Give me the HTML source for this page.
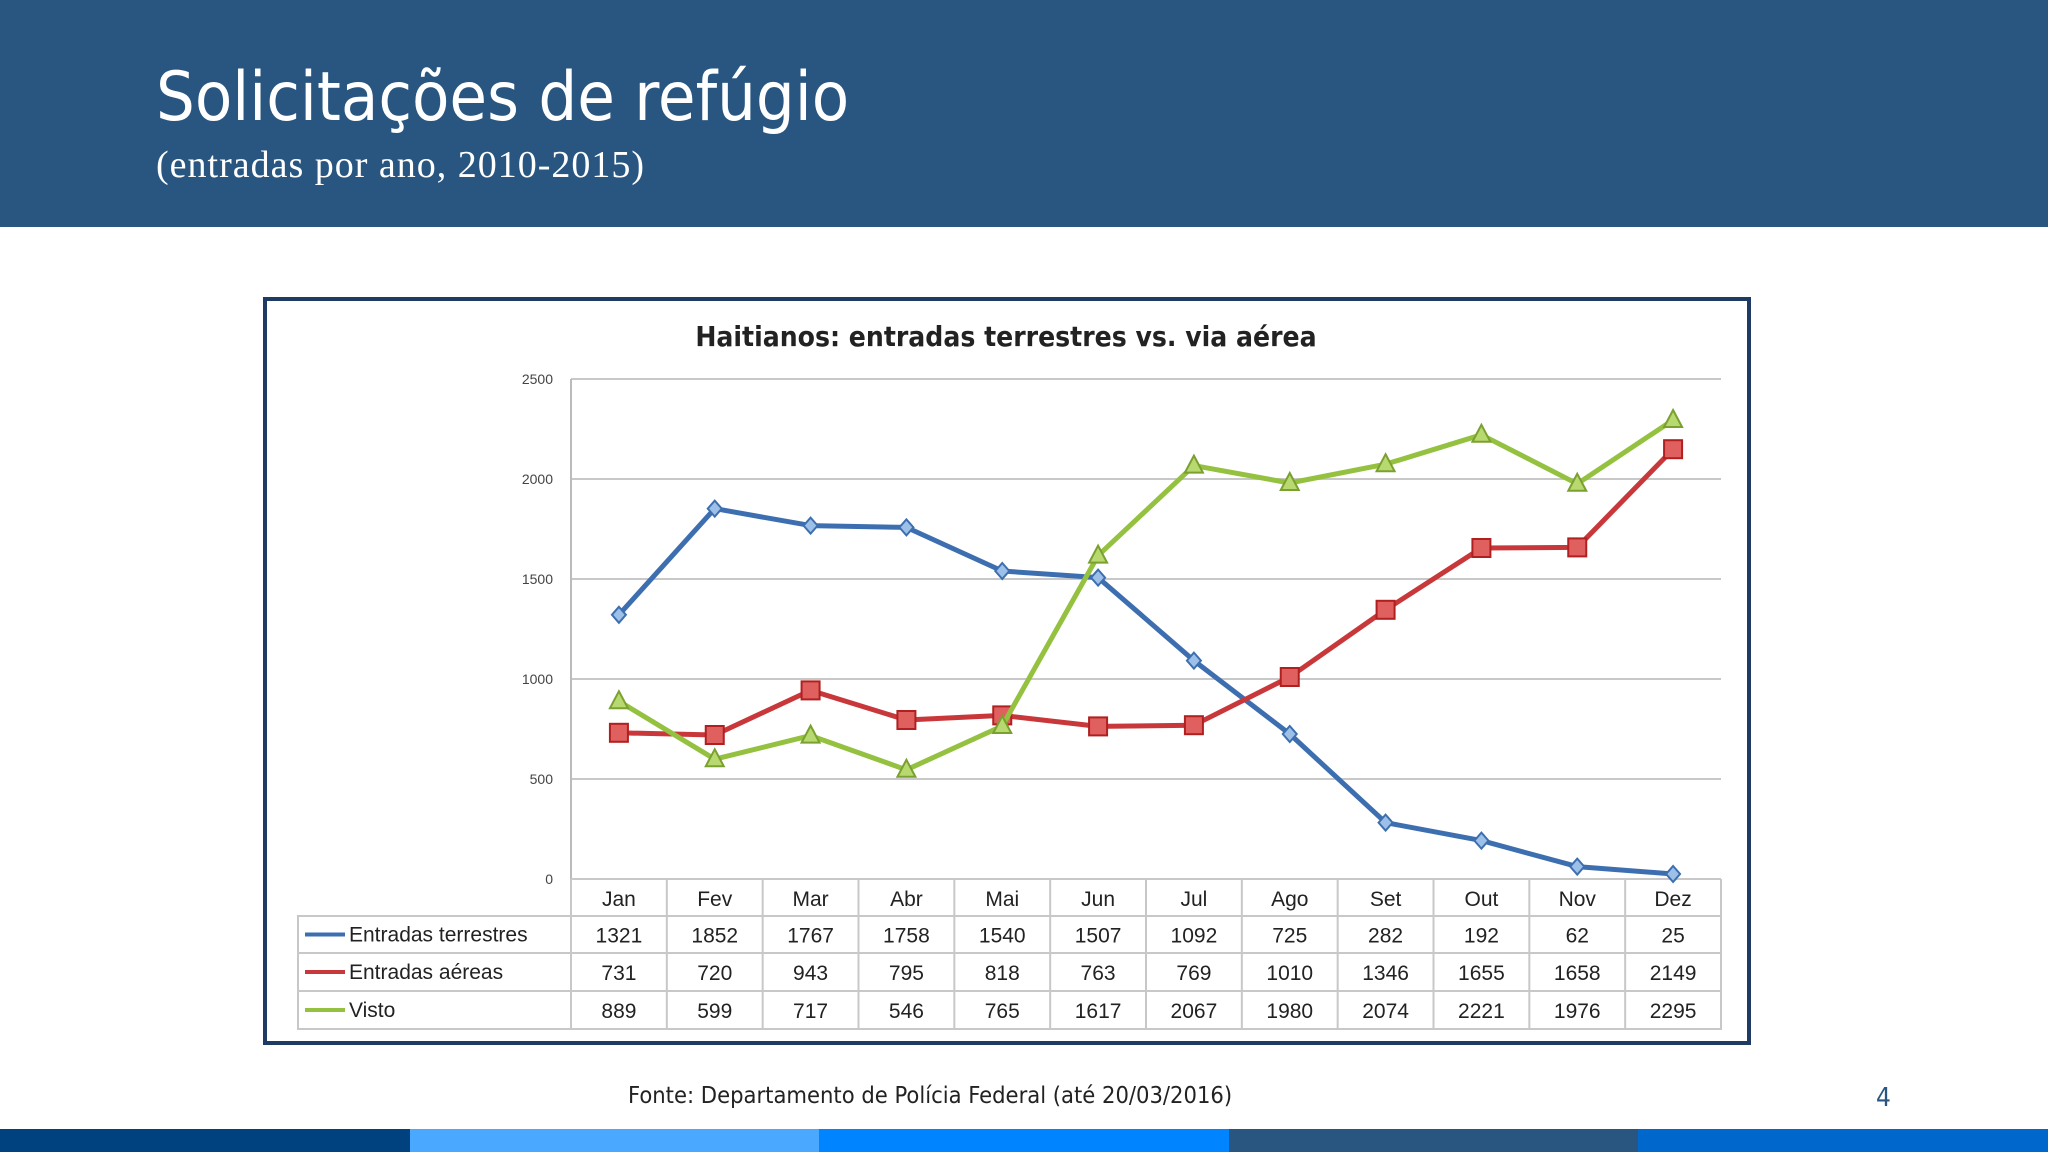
<!DOCTYPE html>
<html><head><meta charset="utf-8">
<style>
body{margin:0;width:2048px;height:1152px;position:relative;background:#fff;overflow:hidden;font-family:"Liberation Sans",sans-serif}
.hdr{position:absolute;left:0;top:0;width:2048px;height:227px;background:#285680}
.t1{position:absolute;left:156px;top:58px;color:#fff;font-size:68px;font-family:"DejaVu Sans Condensed","DejaVu Sans",sans-serif}
.t2{position:absolute;left:156px;top:143px;color:#fff;font-size:38px;letter-spacing:1px;font-family:"Liberation Serif",serif}
.bar{position:absolute;top:1129px;height:23px;width:410px}
</style></head><body>
<div class="hdr">
<div class="t1">Solicitações de refúgio</div>
<div class="t2">(entradas por ano, 2010-2015)</div>
</div>
<svg id="chart" style="position:absolute;left:0;top:0" width="2048" height="1152"></svg>
<div style="position:absolute;left:628px;top:1081px;font-size:23.5px;color:#222;font-family:'DejaVu Sans Condensed','DejaVu Sans',sans-serif">Fonte: Departamento de Polícia Federal (até 20/03/2016)</div>
<div style="position:absolute;left:1876px;top:1083px;font-size:26px;color:#285680;font-family:'DejaVu Sans Condensed',sans-serif">4</div>
<div class="bar" style="left:0;background:#00417f"></div>
<div class="bar" style="left:410px;background:#4aa9ff"></div>
<div class="bar" style="left:819px;background:#0084ff"></div>
<div class="bar" style="left:1229px;background:#285680"></div>
<div class="bar" style="left:1638px;background:#0067cc;width:410px"></div>
<script>
const months=["Jan","Fev","Mar","Abr","Mai","Jun","Jul","Ago","Set","Out","Nov","Dez"];
const terrestres=[1321,1852,1767,1758,1540,1507,1092,725,282,192,62,25];
const aereas=[731,720,943,795,818,763,769,1010,1346,1655,1658,2149];
const visto=[889,599,717,546,765,1617,2067,1980,2074,2221,1976,2295];
const yTicks=[0,500,1000,1500,2000,2500];
const seriesNames=["Entradas terrestres","Entradas aéreas","Visto"];
const NS="http://www.w3.org/2000/svg";
const svg=document.getElementById('chart');
function el(t,a,p){const e=document.createElementNS(NS,t);for(const k in a)e.setAttribute(k,a[k]);(p||svg).appendChild(e);return e;}
const x0=571,x1=1721,yTop=379,yBot=879;
const cw=(x1-x0)/months.length;
const X=i=>x0+cw*(i+0.5);
const Y=v=>yBot-(v/2500)*(yBot-yTop);
let f=el('rect',{x:265,y:299,width:1484,height:744,fill:'#fff',stroke:'#1f3b63','stroke-width':4});


let tt=el('text',{x:1006,y:346,'text-anchor':'middle','font-size':28,'font-weight':'bold',fill:'#222','font-family':'DejaVu Sans Condensed, DejaVu Sans, sans-serif'});
tt.textContent="Haitianos: entradas terrestres vs. via aérea";


yTicks.forEach(v=>{
 const g=el('line',{x1:x0,x2:x1,y1:Y(v),y2:Y(v),stroke:'#c8c8c8','stroke-width':2});
 
 
 const t=el('text',{x:553,y:Y(v)+5,'text-anchor':'end','font-size':14,fill:'#444'});
 t.textContent=v;
 
 
});
el('line',{x1:x0,x2:x0,y1:yTop,y2:yBot,stroke:'#bbb','stroke-width':2});
const rowY=[879,916,953,991,1029];
const tb=el('g',{stroke:'#c8c8c8','stroke-width':2,fill:'none'});


el('rect',{x:298,y:916,width:x1-298,height:113},tb);
el('line',{x1:x0,x2:x1,y1:879,y2:879},tb);
[953,991].forEach(y=>el('line',{x1:298,x2:x1,y1:y,y2:y},tb));
for(let i=0;i<=months.length;i++)el('line',{x1:x0+cw*i,x2:x0+cw*i,y1:879,y2:1029},tb);
months.forEach((m,i)=>{const t=el('text',{x:X(i),y:906,'text-anchor':'middle','font-size':21,fill:'#222'});t.textContent=m;
 
 });
const colors=['#3d6fb0','#c8383a','#94c13f'];
const data=[terrestres,aereas,visto];
data.forEach((d,s)=>{
 const ly=rowY[s+1]+(rowY[s+2]-rowY[s+1])/2;
 el('line',{x1:305,x2:345,y1:ly,y2:ly,stroke:colors[s],'stroke-width':4});
 const lt=el('text',{x:349,y:ly+7,'font-size':21,fill:'#222'});lt.textContent=seriesNames[s];
 
 
 d.forEach((v,i)=>{const t=el('text',{x:X(i),y:ly+8,'text-anchor':'middle','font-size':21,fill:'#222'});t.textContent=v;
  
  });
 const p=el('polyline',{points:d.map((v,i)=>X(i)+','+Y(v)).join(' '),fill:'none',stroke:colors[s],'stroke-width':5,'stroke-linejoin':'round'});
 
 
 d.forEach((v,i)=>{
  let m;const cx=X(i),cy=Y(v);
  if(s===0)m=el('polygon',{points:`${cx},${cy-8} ${cx+7},${cy} ${cx},${cy+8} ${cx-7},${cy}`,fill:'#9cc0e8',stroke:colors[0],'stroke-width':2});
  else if(s===1)m=el('rect',{x:cx-9,y:cy-9,width:18,height:18,fill:'#e06060',stroke:'#b02020','stroke-width':2});
  else m=el('polygon',{points:`${cx},${cy-10} ${cx+9},${cy+7} ${cx-9},${cy+7}`,fill:'#b8d870',stroke:'#7aa030','stroke-width':2});
  
  
 });
});
</script>
</body></html>
